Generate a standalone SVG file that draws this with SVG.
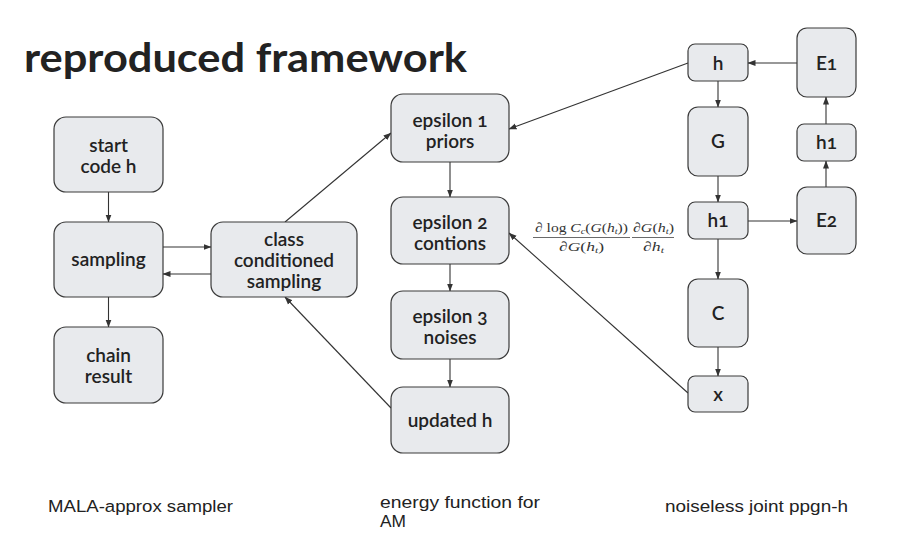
<svg xmlns="http://www.w3.org/2000/svg" width="924" height="559" viewBox="0 0 924 559">
<defs>
<marker id="ah" markerUnits="userSpaceOnUse" markerWidth="8" markerHeight="8" viewBox="0 0 8 8" refX="7.5" refY="4" orient="auto">
<path d="M0,1 L8,4 L0,7 Z" fill="#333"/>
</marker>
<style>
.n rect{fill:#e8eaed;stroke:#3a3a3a;stroke-width:1.2}
.n text{font-family:"Lato","Open Sans","DejaVu Sans",sans-serif;font-size:19px;font-weight:600;fill:#222;text-anchor:middle;font-variant-numeric:oldstyle-nums}
#connectors line{stroke:#333;stroke-width:1.1;fill:none}
#connectors .a{marker-end:url(#ah)}
.cap{font-family:"Liberation Sans",Arial,sans-serif;font-size:16.3px;fill:#222}
.m{font-family:"Liberation Serif","Times New Roman",serif;font-size:13.5px;fill:#333}
.mi{font-style:italic}
.sub{font-style:italic;font-size:9px}
</style>
</defs>
<rect width="924" height="559" fill="#fff"/>
<text x="24" y="72" font-family="Lato,'Open Sans',sans-serif" font-weight="700" font-size="41" fill="#222" textLength="443" lengthAdjust="spacingAndGlyphs">reproduced framework</text>

<g id="connectors">
<line class="a" x1="108.5" y1="192" x2="108.5" y2="222"/>
<line class="a" x1="108.5" y1="297" x2="108.5" y2="327"/>
<line class="a" x1="163" y1="247" x2="211" y2="247"/>
<line class="a" x1="211" y1="274" x2="163" y2="274"/>
<line class="a" x1="285" y1="222" x2="391" y2="133"/>
<line class="a" x1="391" y1="408" x2="285" y2="297"/>
<line class="a" x1="450" y1="162" x2="450" y2="197"/>
<line class="a" x1="450" y1="264" x2="450" y2="291"/>
<line class="a" x1="450" y1="359" x2="450" y2="387"/>
<line class="a" x1="688" y1="63" x2="509" y2="129"/>
<line class="a" x1="688" y1="393" x2="509" y2="233"/>
<line class="a" x1="718" y1="81" x2="718" y2="107"/>
<line class="a" x1="718" y1="176" x2="718" y2="202"/>
<line class="a" x1="718" y1="239" x2="718" y2="279"/>
<line class="a" x1="718" y1="347" x2="718" y2="376"/>
<line class="a" x1="748" y1="221" x2="797" y2="221"/>
<line class="a" x1="826" y1="187" x2="826" y2="161"/>
<line class="a" x1="826" y1="124" x2="826" y2="97"/>
<line class="a" x1="797" y1="63" x2="748" y2="63"/>
</g>

<g id="start" class="n"><rect x="54" y="117" width="109" height="75" rx="12"/><text x="108.5" y="152">start</text><text x="108.5" y="173">code h</text></g>
<g id="sampling" class="n"><rect x="54" y="222" width="109" height="75" rx="12"/><text x="108.5" y="266">sampling</text></g>
<g id="chain" class="n"><rect x="54" y="327" width="109" height="76" rx="12"/><text x="108.5" y="362">chain</text><text x="108.5" y="383">result</text></g>
<g id="ccs" class="n"><rect x="211" y="222" width="146" height="75" rx="12"/><text x="284" y="246">class</text><text x="284" y="267">conditioned</text><text x="284" y="288">sampling</text></g>

<g id="eps1" class="n"><rect x="391" y="94" width="118" height="68" rx="12"/><text x="450" y="127">epsilon 1</text><text x="450" y="148">priors</text></g>
<g id="eps2" class="n"><rect x="391" y="197" width="118" height="67" rx="12"/><text x="450" y="229">epsilon 2</text><text x="450" y="250">contions</text></g>
<g id="eps3" class="n"><rect x="391" y="291" width="118" height="68" rx="12"/><text x="450" y="323">epsilon 3</text><text x="450" y="344">noises</text></g>
<g id="updated" class="n"><rect x="391" y="387" width="118" height="66" rx="12"/><text x="450" y="427">updated h</text></g>

<g id="h" class="n"><rect x="688" y="44" width="60" height="37" rx="7"/><text x="718" y="70">h</text></g>
<g id="G" class="n"><rect x="688" y="107" width="60" height="69" rx="10"/><text x="718" y="148">G</text></g>
<g id="h1" class="n"><rect x="688" y="202" width="60" height="37" rx="7"/><text x="718" y="227">h1</text></g>
<g id="C" class="n"><rect x="688" y="279" width="60" height="68" rx="10"/><text x="718" y="320">C</text></g>
<g id="x" class="n"><rect x="688" y="376" width="60" height="36" rx="7"/><text x="718" y="401">x</text></g>
<g id="E1" class="n"><rect x="797" y="28" width="59" height="69" rx="10"/><text x="826.5" y="70">E1</text></g>
<g id="h1r" class="n"><rect x="797" y="124" width="59" height="37" rx="7"/><text x="826.5" y="149">h1</text></g>
<g id="E2" class="n"><rect x="797" y="187" width="59" height="67" rx="10"/><text x="826.5" y="227">E2</text></g>

<g id="formula">
<text class="m" x="535" y="232" textLength="93" lengthAdjust="spacingAndGlyphs">∂ log <tspan class="mi">C</tspan><tspan class="sub" dy="2">c</tspan><tspan dy="-2">(</tspan><tspan class="mi">G</tspan>(<tspan class="mi">h</tspan><tspan class="sub" dy="2">t</tspan><tspan dy="-2">))</tspan></text>
<line x1="533" y1="237.5" x2="630" y2="237.5" stroke="#444" stroke-width="0.8"/>
<text class="m" x="559" y="250.5" textLength="45" lengthAdjust="spacingAndGlyphs">∂<tspan class="mi">G</tspan>(<tspan class="mi">h</tspan><tspan class="sub" dy="2">t</tspan><tspan dy="-2">)</tspan></text>
<text class="m" x="633" y="232" textLength="41" lengthAdjust="spacingAndGlyphs">∂<tspan class="mi">G</tspan>(<tspan class="mi">h</tspan><tspan class="sub" dy="2">t</tspan><tspan dy="-2">)</tspan></text>
<line x1="632" y1="237.5" x2="674" y2="237.5" stroke="#444" stroke-width="0.8"/>
<text class="m" x="643" y="250.5" textLength="21" lengthAdjust="spacingAndGlyphs">∂<tspan class="mi">h</tspan><tspan class="sub" dy="2">t</tspan></text>
</g>

<text class="cap" x="48" y="511.5" textLength="185" lengthAdjust="spacingAndGlyphs">MALA-approx sampler</text>
<text class="cap" x="380" y="508.3" textLength="160" lengthAdjust="spacingAndGlyphs">energy function for</text>
<text class="cap" x="380" y="526.7" textLength="26" lengthAdjust="spacingAndGlyphs">AM</text>
<text class="cap" x="665" y="511.5" textLength="183" lengthAdjust="spacingAndGlyphs">noiseless joint ppgn-h</text>
</svg>
